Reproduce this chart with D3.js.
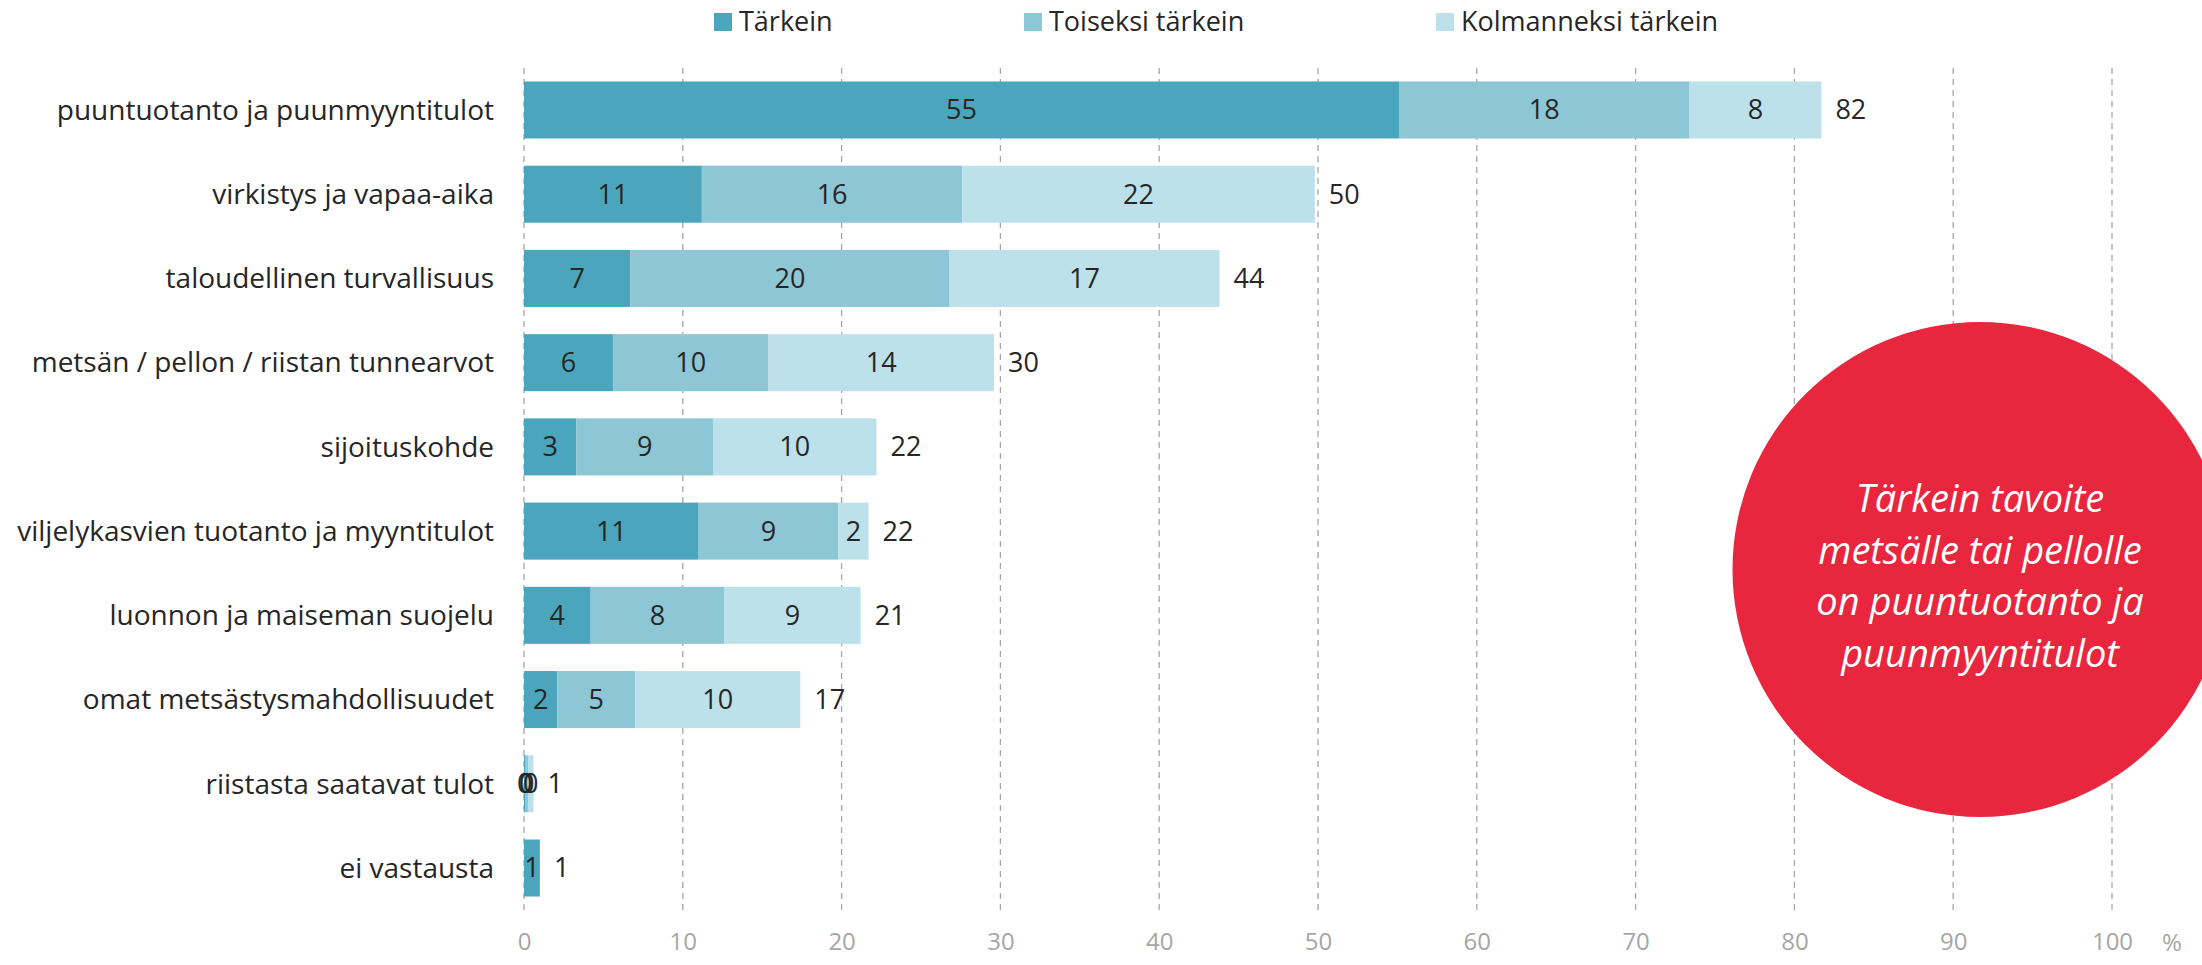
<!DOCTYPE html>
<html>
<head>
<meta charset="utf-8">
<script src="https://cdn.jsdelivr.net/npm/d3@7"></script>
<style>
  body { margin: 0; background: #fff; }
  svg text { font-family: "Open Sans", sans-serif; }
</style>
</head>
<body>
<div id="chart-container"></div>
<script>
// DATA
var categories = [
  "puuntuotanto ja puunmyyntitulot",
  "virkistys ja vapaa-aika",
  "taloudellinen turvallisuus",
  "metsän / pellon / riistan tunnearvot",
  "sijoituskohde",
  "viljelykasvien tuotanto ja myyntitulot",
  "luonnon ja maiseman suojelu",
  "omat metsästysmahdollisuudet",
  "riistasta saatavat tulot",
  "ei vastausta"
];
var seriesNames = ["Tärkein", "Toiseksi tärkein", "Kolmanneksi tärkein"];
var tarkein     = [55.1, 11.2, 6.7, 5.6, 3.3, 11.0, 4.2, 2.1, 0.1, 1.0];
var toiseksi    = [18.3, 16.4, 20.1, 9.8, 8.6, 8.8, 8.4, 4.9, 0.15, 0];
var kolmanneksi = [8.3, 22.2, 17.0, 14.2, 10.3, 1.9, 8.6, 10.4, 0.35, 0];
var xTicks = [0, 10, 20, 30, 40, 50, 60, 70, 80, 90, 100];
var colors = ["#4ba6bd", "#8dc6d5", "#bde1ea"];
var noteLines = ["Tärkein tavoite", "metsälle tai pellolle", "on puuntuotanto ja", "puunmyyntitulot"];

var width = 2202, height = 965;
var margin = {top: 68, left: 524, right: 90, bottom: 55};
var labelSize = "27px";

var svg = d3.select("#chart-container").append("svg")
  .attr("width", width)
  .attr("height", height);

var x = d3.scaleLinear()
  .domain([0, 100])
  .range([margin.left, 2112]);

var y = d3.scaleBand()
  .domain(categories)
  .range([margin.top, height - margin.bottom])
  .paddingInner(0.323)
  .paddingOuter(0.16);

// GRIDLINES (dashed)
svg.append("g").selectAll("line")
  .data(xTicks)
  .enter().append("line")
  .attr("x1", function(d){ return x(d); })
  .attr("x2", function(d){ return x(d); })
  .attr("y1", margin.top)
  .attr("y2", height - margin.bottom)
  .style("stroke", "#a6a6a6")
  .style("stroke-width", 1.3)
  .style("stroke-dasharray", "6,5");

// X AXIS LABELS
var xAxis = d3.axisBottom(x).tickValues(xTicks).tickSize(0).tickPadding(0);
var xGuide = svg.append("g")
  .attr("transform", "translate(0," + 950 + ")")
  .call(xAxis);
xGuide.select(".domain").remove();
xGuide.selectAll("text")
  .style("font-size", "24px")
  .style("fill", "#a6a6a6")
  .attr("dy", "0");

svg.append("text")
  .attr("x", 2172)
  .attr("y", 951)
  .attr("text-anchor", "middle")
  .style("font-size", "24px")
  .style("fill", "#a6a6a6")
  .text("%");

// STACKED BARS
var rows = categories.map(function(c, i){
  return {cat: c, values: [tarkein[i], toiseksi[i], kolmanneksi[i]]};
});

var rowG = svg.append("g").selectAll("g")
  .data(rows)
  .enter().append("g");

rowG.each(function(row){
  var g = d3.select(this);
  var start = 0;
  row.values.forEach(function(v, k){
    if (v > 0) {
      g.append("rect")
        .attr("x", x(start))
        .attr("y", y(row.cat))
        .attr("width", x(start + v) - x(start))
        .attr("height", y.bandwidth())
        .style("fill", colors[k]);
    }
    start += v;
  });
  // LABELS INSIDE SEGMENTS
  start = 0;
  row.values.forEach(function(v, k){
    if (v > 0) {
      g.append("text")
        .attr("x", x(start + v / 2))
        .attr("y", y(row.cat) + y.bandwidth() / 2)
        .attr("dy", "0.35em")
        .attr("text-anchor", "middle")
        .style("font-size", labelSize)
        .style("fill", "#262626")
        .text(Math.round(v));
    }
    start += v;
  });
  // TOTAL
  g.append("text")
    .attr("x", x(start) + 14)
    .attr("y", y(row.cat) + y.bandwidth() / 2)
    .attr("dy", "0.35em")
    .style("font-size", labelSize)
    .style("fill", "#262626")
    .text(Math.round(start));
});

// CATEGORY LABELS
svg.append("g").selectAll("text")
  .data(categories)
  .enter().append("text")
  .attr("x", 494)
  .attr("y", function(d){ return y(d) + y.bandwidth() / 2; })
  .attr("dy", "0.35em")
  .attr("text-anchor", "end")
  .style("font-size", "28px")
  .style("fill", "#262626")
  .text(function(d){ return d; });

// LEGEND
var legendX = [714, 1024, 1436];
var legend = svg.append("g").selectAll("g")
  .data(seriesNames)
  .enter().append("g")
  .attr("transform", function(d, i){ return "translate(" + legendX[i] + ",0)"; });
legend.append("rect")
  .attr("x", 0)
  .attr("y", 13)
  .attr("width", 18)
  .attr("height", 18)
  .style("fill", function(d, i){ return colors[i]; });
legend.append("text")
  .attr("x", 25)
  .attr("y", 22)
  .attr("dy", "0.35em")
  .style("font-size", labelSize)
  .style("fill", "#262626")
  .text(function(d){ return d; });

// RED NOTE CIRCLE
svg.append("circle")
  .attr("cx", 1980)
  .attr("cy", 569.5)
  .attr("r", 247.5)
  .style("fill", "#e8273f");

svg.append("g").selectAll("text")
  .data(noteLines)
  .enter().append("text")
  .attr("x", 1980)
  .attr("y", function(d, i){ return 512 + i * 51.5; })
  .attr("text-anchor", "middle")
  .style("font-size", "38px")
  .style("font-style", "italic")
  .style("fill", "#ffffff")
  .text(function(d){ return d; });
</script>
</body>
</html>
